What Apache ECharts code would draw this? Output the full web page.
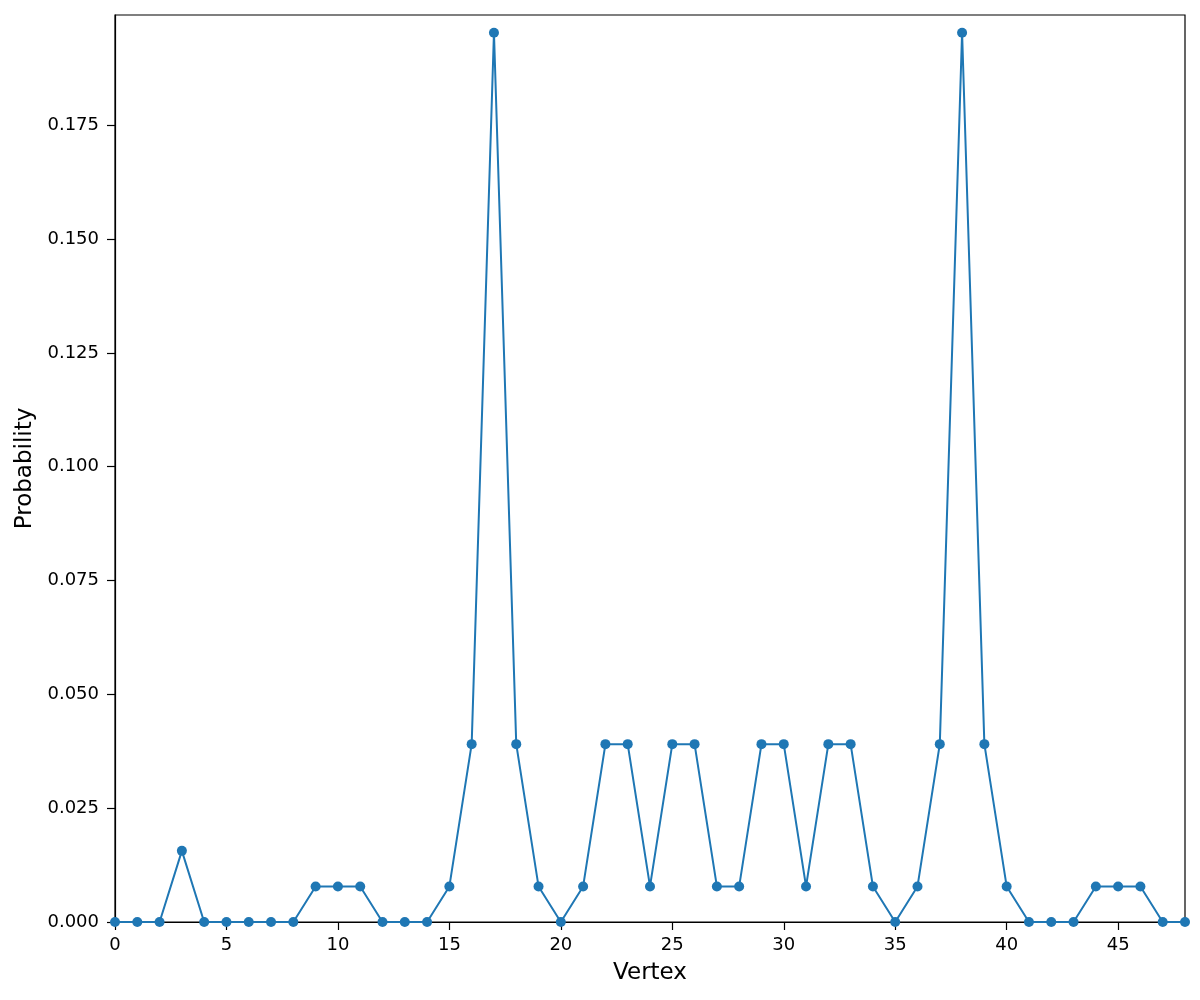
<!DOCTYPE html>
<html>
<head>
<meta charset="utf-8">
<script src="https://cdn.jsdelivr.net/npm/echarts@6/dist/echarts.min.js"></script>
<style>html,body{margin:0;padding:0;background:#fff}#c{width:1200px;height:1000px}</style>
</head>
<body>
<div id="c"></div>
<script>
const vertices = [0,1,2,3,4,5,6,7,8,9,10,11,12,13,14,15,16,17,18,19,20,21,22,23,24,25,26,27,28,29,30,31,32,33,34,35,36,37,38,39,40,41,42,43,44,45,46,47,48];
const probability = [0,0,0,0.015625,0,0,0,0,0,0.0078125,0.0078125,0.0078125,0,0,0,0.0078125,0.0390625,0.1953125,0.0390625,0.0078125,0,0.0078125,0.0390625,0.0390625,0.0078125,0.0390625,0.0390625,0.0078125,0.0078125,0.0390625,0.0390625,0.0078125,0.0390625,0.0390625,0.0078125,0,0.0078125,0.0390625,0.1953125,0.0390625,0.0078125,0,0,0,0.0078125,0.0078125,0.0078125,0,0];
const xTicks = [0,5,10,15,20,25,30,35,40,45];
const yTicks = [0,0.025,0.05,0.075,0.1,0.125,0.15,0.175];

const font = 'DejaVu Sans';
const chart = echarts.init(document.getElementById('c'));
chart.setOption({
  animation: false,
  grid: {left: 115, right: 15, top: 15, bottom: 78, outerBoundsMode: 'none', containLabel: false,
    show: true, borderColor: '#000', borderWidth: 1.2, backgroundColor: 'transparent'},
  xAxis: {
    type: 'value', min: 0, max: 48, interval: 5,
    name: 'Vertex', nameLocation: 'middle', nameGap: 40,
    nameTextStyle: {fontFamily: font, fontSize: 23, color: '#000'},
    axisLine: {show: true, onZero: false, lineStyle: {color: '#000', width: 1.2}},
    axisTick: {show: true, length: 8, inside: false, lineStyle: {color: '#000', width: 1.2}, customValues: xTicks},
    axisLabel: {fontFamily: font, fontSize: 18, color: '#000', margin: 14, customValues: xTicks},
    splitLine: {show: false}
  },
  yAxis: {
    type: 'value', min: 0, max: 0.1992, interval: 0.025,
    name: 'Probability', nameLocation: 'middle', nameGap: 69, nameRotate: 90,
    nameTextStyle: {fontFamily: font, fontSize: 23, color: '#000'},
    axisLine: {show: true, onZero: false, lineStyle: {color: '#000', width: 1.2}},
    axisTick: {show: true, length: 8, inside: false, lineStyle: {color: '#000', width: 1.2}, customValues: yTicks},
    axisLabel: {fontFamily: font, fontSize: 18, color: '#000', margin: 16, customValues: yTicks,
      formatter: v => v.toFixed(3)},
    splitLine: {show: false}
  },
  series: [{
    type: 'line',
    data: vertices.map((v, i) => [v, probability[i]]),
    symbol: 'circle', symbolSize: 10, showAllSymbol: true,
    clip: false,
    lineStyle: {color: '#1f77b4', width: 2},
    itemStyle: {color: '#1f77b4'}
  }]
});
</script>
</body>
</html>
